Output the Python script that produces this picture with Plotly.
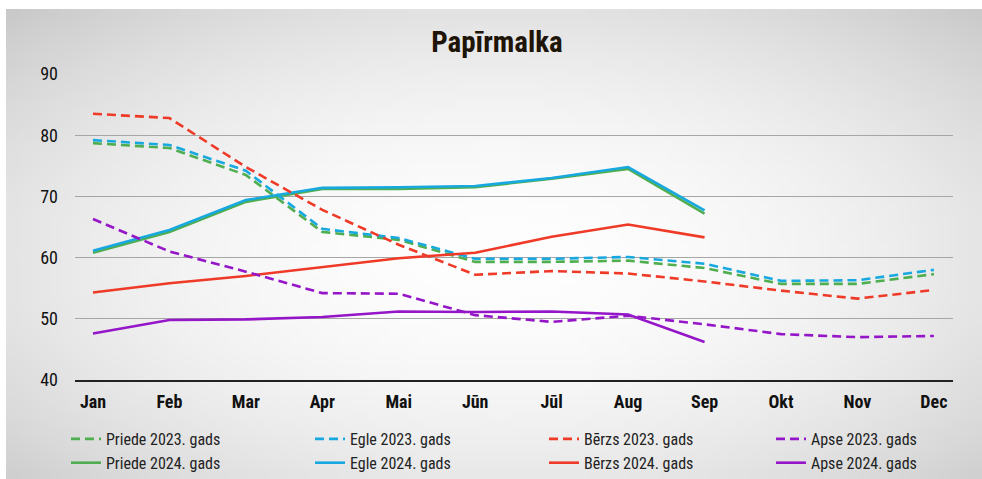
import base64
import struct
import zlib

import plotly.graph_objects as go

# data
months = ["Jan", "Feb", "Mar", "Apr", "Mai", "Jūn", "Jūl", "Aug", "Sep", "Okt", "Nov", "Dec"]

priede_2023 = [78.7, 77.9, 73.5, 64.2, 62.9, 59.3, 59.3, 59.5, 58.3, 55.7, 55.7, 57.3]
priede_2024 = [60.8, 64.2, 69.1, 71.2, 71.2, 71.5, 72.9, 74.5, 67.2]
egle_2023 = [79.2, 78.4, 74.2, 64.7, 63.2, 59.8, 59.8, 60.1, 59.0, 56.2, 56.3, 58.0]
egle_2024 = [61.1, 64.5, 69.4, 71.4, 71.5, 71.7, 73.0, 74.8, 67.7]
berzs_2023 = [83.5, 82.8, 74.8, 67.8, 62.1, 57.2, 57.8, 57.4, 56.1, 54.6, 53.3, 54.7]
berzs_2024 = [54.3, 55.8, 57.0, 58.4, 59.9, 60.8, 63.4, 65.4, 63.3]
apse_2023 = [66.3, 61.0, 57.7, 54.2, 54.1, 50.6, 49.5, 50.5, 49.1, 47.5, 47.0, 47.2]
apse_2024 = [47.6, 49.8, 49.9, 50.3, 51.2, 51.1, 51.2, 50.7, 46.2]

GREEN = "#4fae4f"
BLUE = "#18a8e0"
RED = "#ef3a28"
PURPLE = "#9515c8"

W, H = 982, 479
ML, MR, MT, MB = 75, 29, 74, 99
PW, PH = W - ML - MR, H - MT - MB

FONT = "Roboto Condensed, Liberation Sans Narrow, Roboto, sans-serif"


def gradient_png(w, h):
    # light radial vignette used as the panel background
    rows = []
    for j in range(h):
        row = bytearray([0])
        for i in range(w):
            dx = (i - w * 0.5) / (w * 0.5)
            dy = (j - h * 0.52) / (h * 0.5)
            d2 = dx * dx + dy * dy
            g = int(max(198, 254 - 25 * d2))
            row += bytes([g, g, g])
        rows.append(bytes(row))
    raw = b"".join(rows)

    def chunk(tag, data):
        c = struct.pack(">I", len(data)) + tag + data
        return c + struct.pack(">I", zlib.crc32(tag + data) & 0xffffffff)

    png = b"\x89PNG\r\n\x1a\n"
    png += chunk(b"IHDR", struct.pack(">IIBBBBB", w, h, 8, 2, 0, 0, 0))
    png += chunk(b"IDAT", zlib.compress(raw, 9))
    png += chunk(b"IEND", b"")
    return "data:image/png;base64," + base64.b64encode(png).decode()


series = [
    ("Priede 2023. gads", priede_2023, GREEN, "9px,5px", "legend"),
    ("Priede 2024. gads", priede_2024, GREEN, "solid", "legend"),
    ("Egle 2023. gads", egle_2023, BLUE, "9px,5px", "legend2"),
    ("Egle 2024. gads", egle_2024, BLUE, "solid", "legend2"),
    ("Bērzs 2023. gads", berzs_2023, RED, "9px,5px", "legend3"),
    ("Bērzs 2024. gads", berzs_2024, RED, "solid", "legend3"),
    ("Apse 2023. gads", apse_2023, PURPLE, "9px,5px", "legend4"),
    ("Apse 2024. gads", apse_2024, PURPLE, "solid", "legend4"),
]

fig = go.Figure()
for name, vals, col, dash, leg in series:
    fig.add_trace(go.Scatter(
        x=list(range(len(vals))), y=vals, name=name, mode="lines",
        line=dict(color=col, width=2.6, dash=dash),
        legend=leg,
    ))


def px_x(p):
    return (p - ML) / PW


def px_y(p):
    return (H - MB - p) / PH


leg_common = dict(
    orientation="v", yanchor="top", xanchor="left",
    y=px_y(422), bgcolor="rgba(0,0,0,0)",
    font=dict(family=FONT, size=16, color="#222222"),
    traceorder="normal",
)

fig.update_layout(
    width=W, height=H,
    margin=dict(l=ML, r=MR, t=MT, b=MB, autoexpand=False),
    paper_bgcolor="white",
    plot_bgcolor="rgba(0,0,0,0)",
    title=dict(text="<b>Papīrmalka</b>", x=(497 / W), xanchor="center",
               y=1 - 42 / H, yanchor="middle",
               font=dict(family=FONT, size=29, color="#1e1408")),
    legend=dict(x=px_x(66), **leg_common),
    legend2=dict(x=px_x(310), **leg_common),
    legend3=dict(x=px_x(544), **leg_common),
    legend4=dict(x=px_x(771), **leg_common),
    images=[dict(
        source=gradient_png(98, 47), xref="paper", yref="paper",
        x=px_x(6), y=px_y(9), sizex=(W - 6) / PW, sizey=(H - 9) / PH,
        xanchor="left", yanchor="top", sizing="stretch", layer="below",
    )],
)

fig.update_xaxes(
    range=[-0.235, 11.25], tickmode="array",
    tickvals=list(range(len(months))), ticktext=months,
    tickfont=dict(family=FONT, size=18, color="#111111", weight="bold"),
    ticklabelstandoff=5, showgrid=False, zeroline=False,
    showline=True, linecolor="#222222", linewidth=1.5, ticks="",
)
fig.update_yaxes(
    range=[40, 90], dtick=10, tick0=40,
    tickfont=dict(family=FONT, size=18, color="#111111"),
    ticklabelstandoff=16, showgrid=True, gridcolor="#a6a6a6", gridwidth=1,
    zeroline=False, showline=False, ticks="",
)

# the page's default body margin would push the figure off the window
fig.write_html(
    "out.html",
    config={"displayModeBar": False},
    post_script="document.body.style.margin='0';document.body.style.overflow='hidden';",
)
